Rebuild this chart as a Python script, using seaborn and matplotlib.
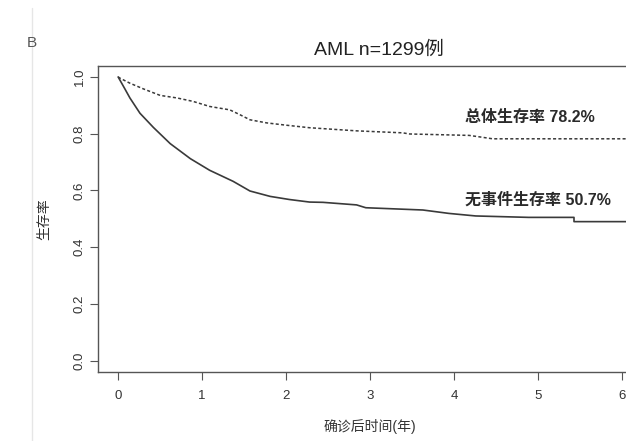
import numpy as np
import pandas as pd
import matplotlib.pyplot as plt
from matplotlib.lines import Line2D
import seaborn as sns

##### Data

os_time = [0.0, 0.02, 0.14, 0.30, 0.50, 0.70, 0.89, 1.09, 1.33, 1.45, 1.57, 1.77, 2.00, 2.28,
           2.84, 3.39, 3.47, 4.18, 4.30, 4.46, 6.3]
os_surv = [1.0, 0.996, 0.978, 0.958, 0.935, 0.926, 0.914, 0.896, 0.884, 0.867, 0.849, 0.838, 0.830, 0.821,
           0.810, 0.803, 0.799, 0.794, 0.789, 0.782, 0.782]

efs_time = [0.0, 0.08, 0.14, 0.26, 0.42, 0.62, 0.86, 1.09, 1.37, 1.57, 1.81, 2.04, 2.28, 2.44,
            2.84, 2.95, 3.63, 3.94, 4.26, 4.89, 5.43, 5.43, 6.3]
efs_surv = [1.0, 0.958, 0.926, 0.872, 0.822, 0.765, 0.712, 0.671, 0.632, 0.598, 0.579, 0.568, 0.559, 0.558,
            0.549, 0.539, 0.531, 0.519, 0.510, 0.505, 0.505, 0.490, 0.490]

x_ticks = [0, 1, 2, 3, 4, 5, 6]
y_ticks = [0.0, 0.2, 0.4, 0.6, 0.8, 1.0]

title = "AML n=1299例"
os_label = "总体生存率 78.2%"
efs_label = "无事件生存率 50.7%"

df_os = pd.DataFrame({"time": os_time, "surv": os_surv})
df_efs = pd.DataFrame({"time": efs_time, "surv": efs_surv})

##### Plot

sns.set_theme(style="white")
plt.rcParams["font.family"] = ["Liberation Sans", "Noto Sans CJK SC", "DejaVu Sans"]

fig = plt.figure(figsize=(6.26, 4.41), dpi=100)
ax = fig.add_axes([98 / 626, 1 - 372 / 441, (642 - 98) / 626, (372 - 65.6) / 441])

line_col = "#3a3a3a"
sns.lineplot(data=df_os, x="time", y="surv", ax=ax, estimator=None, sort=False,
             color=line_col, linestyle=(0, (2.0, 1.5)), linewidth=1.1)
sns.lineplot(data=df_efs, x="time", y="surv", ax=ax, estimator=None, sort=False,
             color=line_col, linewidth=1.2)

ax.set_xlim(-0.24, 6.24)
ax.set_ylim(-0.04, 1.04)
ax.set_xticks(x_ticks)
ax.set_yticks(y_ticks)
ax.set_xticklabels([str(t) for t in x_ticks], fontsize=9.5, color="#333333")
ax.set_yticklabels([f"{t:.1f}" for t in y_ticks], fontsize=9.5, color="#333333",
                   rotation=90, va="center")
ax.tick_params(axis="both", direction="out", length=6, width=0.8, color="#555555",
               bottom=True, left=True)
ax.tick_params(axis="x", pad=7)
ax.tick_params(axis="y", pad=3)

for s in ax.spines.values():
    s.set_color("#555555")
    s.set_linewidth(1.0)

ax.set_xlabel("确诊后时间(年)", fontsize=10, color="#333333", labelpad=12)
ax.set_ylabel("生存率", fontsize=10, color="#333333", labelpad=16)
ax.set_title(title, fontsize=14, color="#222222", pad=8, x=(379 - 98) / (642 - 98))

ax.text(4.13, 0.856, os_label, fontsize=11.5, fontweight="bold", color="#2a2a2a", va="center")
ax.text(4.13, 0.567, efs_label, fontsize=11.5, fontweight="bold", color="#2a2a2a", va="center")

# page border and panel letter
fig.add_artist(Line2D([32 / 626, 32 / 626], [0, 1 - 8 / 441], transform=fig.transFigure,
                      color="#e6e6e6", linewidth=1.0))
fig.text(27 / 626, 1 - 43 / 441, "B", fontsize=11, color="#555555", va="center")

fig.savefig("out.png", dpi=100)
